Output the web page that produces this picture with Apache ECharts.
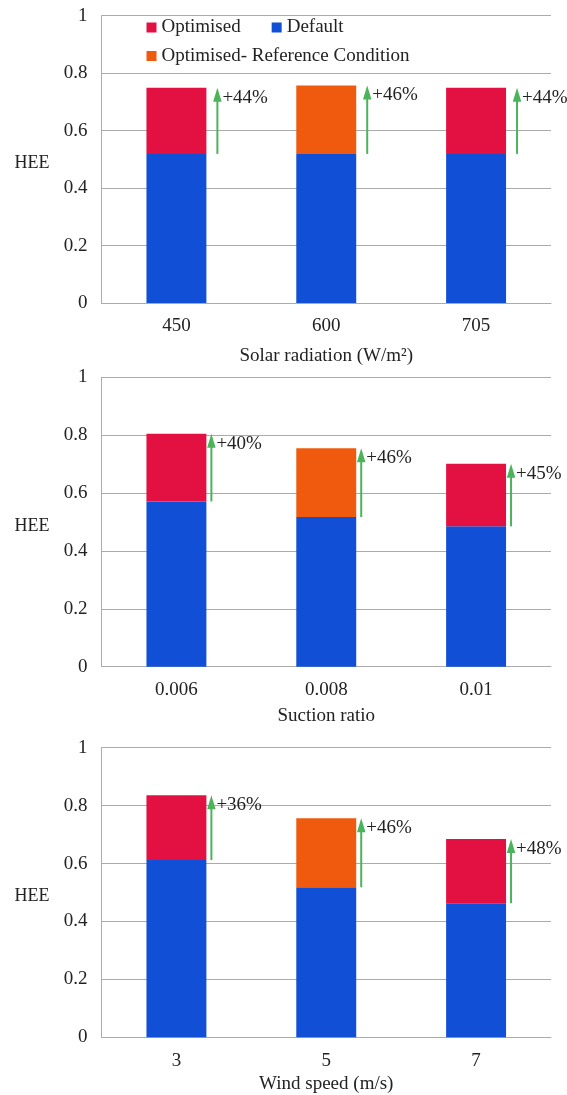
<!DOCTYPE html>
<html>
<head>
<meta charset="utf-8">
<script src="https://cdn.jsdelivr.net/npm/echarts@6/dist/echarts.min.js"></script>
<style>
  html, body { margin: 0; padding: 0; background: #ffffff; }
  #chart { width: 567px; height: 1095px; }
</style>
</head>
<body>
<div id="chart"></div>
<script>
// HEE of the default and optimised designs for three parameter sweeps
const solarCategories = ['450', '600', '705'];
const solarDefault = [0.519, 0.519, 0.519];
const solarOptimised = [0.749, 0.757, 0.749];
const solarGain = ['+44%', '+46%', '+44%'];

const suctionCategories = ['0.006', '0.008', '0.01'];
const suctionDefault = [0.571, 0.517, 0.485];
const suctionOptimised = [0.805, 0.755, 0.701];
const suctionGain = ['+40%', '+46%', '+45%'];

const windCategories = ['3', '5', '7'];
const windDefault = [0.612, 0.518, 0.463];
const windOptimised = [0.836, 0.756, 0.685];
const windGain = ['+36%', '+46%', '+48%'];

// index of the reference-condition case in every sweep
const referenceIndex = 1;

const yTicks = { min: 0, max: 1, interval: 0.2 };

const FONT = '"Liberation Serif", "Times New Roman", serif';
const TEXT = '#222222';
const GRID_LINE = '#ababab';
const BLUE = '#1150d6';
const RED = '#e31042';
const ORANGE = '#f05a0f';
const GREEN = '#4bb35a';

const panels = [
  { cats: solarCategories, def: solarDefault, opt: solarOptimised, gain: solarGain,
    title: 'Solar radiation (W/m\u00b2)', top: 15.7, height: 287.3, nameGap: 44, arrowOffset: 11 },
  { cats: suctionCategories, def: suctionDefault, opt: suctionOptimised, gain: suctionGain,
    title: 'Suction ratio', top: 377.3, height: 289.4, nameGap: 40, arrowOffset: 5 },
  { cats: windCategories, def: windDefault, opt: windOptimised, gain: windGain,
    title: 'Wind speed (m/s)', top: 747.7, height: 289.6, nameGap: 37, arrowOffset: 5 }
];

const grid = [], xAxis = [], yAxis = [], series = [];

panels.forEach(function (p, i) {
  grid.push({ left: 101.5, width: 449.5, top: p.top, height: p.height, containLabel: false });

  xAxis.push({
    type: 'category', gridIndex: i, data: p.cats,
    name: p.title, nameLocation: 'middle', nameGap: p.nameGap,
    nameTextStyle: { fontFamily: FONT, fontSize: 19, color: TEXT },
    axisLine: { show: true, lineStyle: { color: GRID_LINE, width: 1 } },
    axisTick: { show: false },
    axisLabel: { fontFamily: FONT, fontSize: 19, color: TEXT, margin: 14 },
    splitLine: { show: false }
  });

  yAxis.push({
    type: 'value', gridIndex: i, min: yTicks.min, max: yTicks.max, interval: yTicks.interval,
    name: 'HEE', nameLocation: 'middle', nameRotate: 0, nameGap: 52,
    nameTextStyle: { fontFamily: FONT, fontSize: 18, color: TEXT, verticalAlign: 'top', lineHeight: 8 },
    axisLine: { show: true, lineStyle: { color: GRID_LINE, width: 1 } },
    axisTick: { show: false },
    axisLabel: { fontFamily: FONT, fontSize: 19, color: TEXT, margin: 14 },
    splitLine: { show: true, lineStyle: { color: GRID_LINE, width: 1 } }
  });

  const stackId = 'hee' + i;
  const gainOnly = function (keepReference) {
    return p.opt.map(function (v, k) {
      const isRef = k === referenceIndex;
      return isRef === keepReference ? +(v - p.def[k]).toFixed(4) : '-';
    });
  };

  series.push({
    name: 'Default', type: 'bar', xAxisIndex: i, yAxisIndex: i, stack: stackId,
    barWidth: '40%', data: p.def, itemStyle: { color: BLUE }, silent: true
  });
  series.push({
    name: 'Optimised', type: 'bar', xAxisIndex: i, yAxisIndex: i, stack: stackId,
    barWidth: '40%', data: gainOnly(false), itemStyle: { color: RED }, silent: true
  });
  series.push({
    name: 'Optimised- Reference Condition', type: 'bar', xAxisIndex: i, yAxisIndex: i, stack: stackId,
    barWidth: '40%', data: gainOnly(true), itemStyle: { color: ORANGE }, silent: true
  });

  // green improvement arrows from the default level up to the optimised level
  const offset = p.arrowOffset;
  series.push({
    type: 'custom', xAxisIndex: i, yAxisIndex: i, clip: false, silent: true, z: 5,
    data: p.cats.map(function (c, k) { return [k, p.def[k], p.opt[k], p.gain[k]]; }),
    encode: { x: 0, y: [1, 2] },
    renderItem: function (params, api) {
      const k = api.value(0);
      const base = api.coord([k, api.value(1)]);
      const tip = api.coord([k, api.value(2)]);
      const band = api.size([1, 0])[0];
      const x = base[0] + band * 0.2 + offset;
      const headH = 14, headW = 8.5;
      const label = p.gain[params.dataIndex];
      return {
        type: 'group',
        children: [
          { type: 'line', shape: { x1: x, y1: base[1], x2: x, y2: tip[1] + headH - 1 },
            style: { stroke: GREEN, lineWidth: 2 } },
          { type: 'polygon',
            shape: { points: [[x, tip[1]], [x - headW / 2, tip[1] + headH], [x + headW / 2, tip[1] + headH]] },
            style: { fill: GREEN } },
          { type: 'text', x: x + 5, y: tip[1] + 10,
            style: { text: label, font: '19px ' + FONT, fill: TEXT, textAlign: 'left', textVerticalAlign: 'middle' } }
        ]
      };
    }
  });
});

const legendText = { fontFamily: FONT, fontSize: 19, color: TEXT };

const option = {
  backgroundColor: '#ffffff',
  animation: false,
  grid: grid,
  xAxis: xAxis,
  yAxis: yAxis,
  legend: [
    { data: ['Optimised', 'Default'], left: 146.5, top: 18, orient: 'horizontal',
      icon: 'rect', itemWidth: 10, itemHeight: 10, itemGap: 31,
      textStyle: legendText, selectedMode: false, padding: 0 },
    { data: ['Optimised- Reference Condition'], left: 146.5, top: 46.5, orient: 'horizontal',
      icon: 'rect', itemWidth: 10, itemHeight: 10,
      textStyle: legendText, selectedMode: false, padding: 0 }
  ],
  series: series
};

const chart = echarts.init(document.getElementById('chart'), null, { renderer: 'canvas' });
chart.setOption(option);
</script>
</body>
</html>
